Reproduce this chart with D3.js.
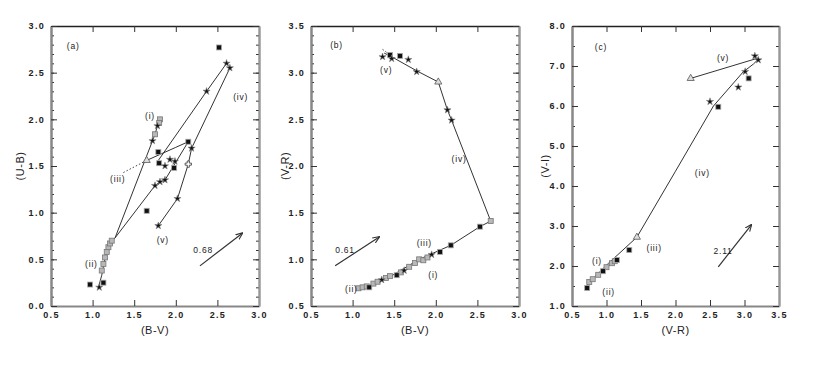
<!DOCTYPE html>
<html>
<head>
<meta charset="utf-8">
<script src="https://cdn.jsdelivr.net/npm/d3@7"></script>
<style>
  body { margin: 0; background: #fff; }
  svg { display: block; }
  text { font-family: "Liberation Sans", Arial, sans-serif; fill: #222; }
</style>
</head>
<body>
<svg id="chart" width="817" height="366"></svg>
<script>
// ---- panel (a): (U-B) against (B-V) ----
const aTrackI   = [[1.07,0.20],[1.11,0.33],[1.14,0.47],[1.17,0.58],[1.20,0.66],[1.27,0.73],[1.72,1.77],[1.75,1.84],[1.78,1.93],[1.81,2.01]];
const aTrackIII = [[1.27,0.73],[1.75,1.29],[1.81,1.33],[1.87,1.35],[2.15,1.76]];
const aTrackLoop = [[1.65,1.56],[1.80,1.62],[2.00,1.70],[2.15,1.76]];
const aTrackIV  = [[1.79,1.56],[2.37,2.30],[2.61,2.60]];
const aTrackV   = [[2.65,2.55],[2.19,1.69],[2.15,1.52],[2.02,1.15],[1.79,0.86]];
const aDotted   = [[1.37,1.43],[1.65,1.56]];
const aSquares  = [[0.97,0.23],[1.13,0.25],[1.65,1.02],[1.79,1.65],[1.80,1.53],[1.98,1.48],[2.52,2.77],[2.15,1.76]];
const aStars    = [[1.08,0.20],[1.79,0.86],[2.02,1.15],[2.19,1.69],[1.87,1.50],[1.93,1.57],[1.99,1.55],[1.75,1.29],[1.81,1.33],[1.87,1.35],[2.37,2.30],[2.61,2.60],[2.65,2.55],[1.72,1.77],[1.78,1.93]];
const aGrey     = [[1.11,0.38],[1.13,0.45],[1.15,0.52],[1.17,0.58],[1.19,0.63],[1.21,0.67],[1.23,0.70],[1.75,1.84],[1.81,2.00],[1.80,1.96]];
const aPlus     = [[2.15,1.52]];
const aOpen     = [[1.65,1.56]];
const aArrow    = [[2.29,0.43],[2.80,0.78]];
const aLabels   = [["(a)",0.69,2.79],["(i)",1.63,2.04],["(iv)",2.69,2.24],["(iii)",1.21,1.36],["(v)",1.77,0.71],["(ii)",0.91,0.45],["0.68",2.21,0.60]];

// ---- panel (b): (V-R) against (B-V) ----
const bTrack    = [[1.38,3.21],[1.47,3.17],[1.77,3.02],[2.03,2.90],[2.14,2.60],[2.19,2.49],[2.66,1.41],[2.53,1.35],[2.18,1.15],[1.80,1.00],[1.50,0.84],[1.22,0.71],[1.05,0.68]];
const bDotted   = [[1.36,3.25],[1.45,3.19]];
const bSquares  = [[1.45,3.19],[1.57,3.18],[1.53,0.83],[2.18,1.15],[2.53,1.35],[2.05,1.08],[1.20,0.70]];
const bStars    = [[1.36,3.17],[1.47,3.15],[1.67,3.14],[1.77,3.01],[2.14,2.60],[2.19,2.49],[1.95,1.05],[1.35,0.78],[1.62,0.88]];
const bGrey     = [[1.07,0.69],[1.12,0.70],[1.17,0.71],[1.25,0.74],[1.30,0.76],[1.40,0.80],[1.45,0.82],[1.58,0.86],[1.68,0.92],[1.75,0.96],[1.80,1.00],[1.85,0.99],[1.90,1.02],[2.66,1.41]];
const bPlus     = [];
const bOpen     = [[2.03,2.90]];
const bArrow    = [[0.79,0.93],[1.32,1.24]];
const bLabels   = [["(b)",0.73,3.30],["(v)",1.33,3.03],["(iv)",2.19,2.07],["(iii)",1.77,1.17],["(i)",1.91,0.83],["(ii)",0.91,0.68],["0.61",0.79,1.10]];

// ---- panel (c): (V-I) against (V-R) ----
const cTrack    = [[0.69,1.47],[0.83,1.73],[1.03,2.07],[1.44,2.72],[2.00,4.37],[2.55,6.00],[2.98,6.85],[3.13,7.05],[3.20,7.17]];
const cTrackV   = [[2.22,6.69],[3.20,7.20]];
const cSquares  = [[1.33,2.40],[1.15,2.15],[0.95,1.87],[0.72,1.45],[2.62,5.98],[3.06,6.69]];
const cStars    = [[2.50,6.11],[2.91,6.47],[3.01,6.86],[3.15,7.25],[3.20,7.15]];
const cGrey     = [[0.75,1.60],[0.80,1.67],[0.88,1.78],[1.00,1.97],[1.08,2.07],[1.12,2.12]];
const cPlus     = [];
const cOpen     = [[1.44,2.72],[2.22,6.69]];
const cArrow    = [[2.62,1.98],[3.10,3.03]];
const cLabels   = [["(c)",0.83,7.48],["(v)",2.60,7.19],["(iv)",2.28,4.32],["(iii)",1.58,2.44],["(i)",0.79,2.13],["(ii)",0.94,1.34],["2.11",2.55,2.37]];

const panels = [
  { left: 51,  right: 259, xDom: [0.5,3.0], yDom: [0,3.0], yMinor: 0.1, xTitle: "(B-V)", yTitle: "(U-B)", yTitleX: 24,
    lines: [aTrackI, aTrackIII, aTrackLoop, aTrackIV, aTrackV], dotted: [aDotted],
    squares: aSquares, stars: aStars, grey: aGrey, plus: aPlus, open: aOpen, arrow: aArrow, labels: aLabels },
  { left: 311, right: 519, xDom: [0.5,3.0], yDom: [0.5,3.5], yMinor: 0.1, xTitle: "(B-V)", yTitle: "(V-R)", yTitleX: 289,
    lines: [bTrack], dotted: [bDotted],
    squares: bSquares, stars: bStars, grey: bGrey, plus: bPlus, open: bOpen, arrow: bArrow, labels: bLabels },
  { left: 572, right: 779, xDom: [0.5,3.5], yDom: [1.0,8.0], yMinor: 0.5, xTitle: "(V-R)", yTitle: "(V-I)", yTitleX: 549,
    lines: [cTrack, cTrackV], dotted: [],
    squares: cSquares, stars: cStars, grey: cGrey, plus: cPlus, open: cOpen, arrow: cArrow, labels: cLabels }
];

const TOP = 26, BOTTOM = 306;
const svg = d3.select("#chart");
const fmt = d3.format(".1f");

svg.append("defs").append("marker")
  .attr("id", "head")
  .attr("viewBox", "0 0 10 10")
  .attr("refX", 9).attr("refY", 5)
  .attr("markerWidth", 6).attr("markerHeight", 6)
  .attr("orient", "auto")
  .append("path")
  .attr("d", "M0,1 L10,5 L0,9")
  .attr("fill", "none")
  .attr("stroke", "#333")
  .attr("stroke-width", 1.5);

panels.forEach(p => {
  const x = d3.scaleLinear().domain(p.xDom).range([p.left, p.right]);
  const y = d3.scaleLinear().domain(p.yDom).range([BOTTOM, TOP]);
  const xMajor = d3.range(p.xDom[0], p.xDom[1] + 1e-9, 0.5);
  const yMajor = d3.range(p.yDom[0], p.yDom[1] + 1e-9, p.yDom[1] - p.yDom[0] > 4 ? 1 : 0.5);
  const yMinor = d3.range(p.yDom[0], p.yDom[1] + 1e-9, p.yMinor);
  const g = svg.append("g");

  // axes, ticks pointing inwards
  const styleAxis = (sel, colour, width) => {
    sel.select(".domain").attr("stroke", colour).attr("stroke-width", width);
    sel.selectAll(".tick line").attr("stroke", "#333");
    sel.selectAll("text")
      .style("font-size", "9px").style("font-weight", "bold")
      .style("letter-spacing", "1.3px").attr("fill", "#222");
  };

  g.append("g").attr("transform", `translate(0,${BOTTOM})`)
    .call(d3.axisBottom(x).tickValues(xMajor).tickSizeInner(-6).tickSizeOuter(0).tickPadding(6).tickFormat(fmt))
    .call(s => styleAxis(s, "#888", 2));
  g.append("g").attr("transform", `translate(0,${TOP})`)
    .call(d3.axisTop(x).tickValues(xMajor).tickSizeInner(-6).tickSizeOuter(0).tickFormat(""))
    .call(s => styleAxis(s, "#222", 1.5));
  g.append("g").attr("transform", `translate(${p.left},0)`)
    .call(d3.axisLeft(y).tickValues(yMinor).tickSizeInner(-3).tickSizeOuter(0).tickFormat(""))
    .call(s => styleAxis(s, "#888", 2));
  g.append("g").attr("transform", `translate(${p.left},0)`)
    .call(d3.axisLeft(y).tickValues(yMajor).tickSizeInner(-6).tickSizeOuter(0).tickPadding(6).tickFormat(fmt))
    .call(s => styleAxis(s, "#888", 2));
  g.append("g").attr("transform", `translate(${p.right},0)`)
    .call(d3.axisRight(y).tickValues(yMinor).tickSizeInner(-3).tickSizeOuter(0).tickFormat(""))
    .call(s => styleAxis(s, "#999", 2));
  g.append("g").attr("transform", `translate(${p.right},0)`)
    .call(d3.axisRight(y).tickValues(yMajor).tickSizeInner(-6).tickSizeOuter(0).tickFormat(""))
    .call(s => styleAxis(s, "#999", 2));

  // axis titles
  g.append("text")
    .attr("x", (p.left + p.right) / 2).attr("y", 334)
    .attr("text-anchor", "middle")
    .style("font-size", "11px").style("letter-spacing", "0.5px")
    .text(p.xTitle);
  g.append("text")
    .attr("transform", `translate(${p.yTitleX},${(TOP + BOTTOM) / 2}) rotate(-90)`)
    .attr("text-anchor", "middle")
    .style("font-size", "11px").style("letter-spacing", "0.5px")
    .text(p.yTitle);

  const line = d3.line().x(d => x(d[0])).y(d => y(d[1]));

  g.selectAll(".track").data(p.lines).enter()
    .append("path")
    .attr("d", line)
    .attr("fill", "none")
    .attr("stroke", "#333")
    .attr("stroke-width", 1);

  g.selectAll(".dotted").data(p.dotted).enter()
    .append("path")
    .attr("d", line)
    .attr("fill", "none")
    .attr("stroke", "#444")
    .attr("stroke-width", 1)
    .attr("stroke-dasharray", "1.5,2");

  // reddening vector
  g.append("path")
    .attr("d", line(p.arrow))
    .attr("fill", "none")
    .attr("stroke", "#333")
    .attr("stroke-width", 1.2)
    .attr("marker-end", "url(#head)");

  // markers
  g.selectAll(".grey").data(p.grey).enter()
    .append("rect")
    .attr("x", d => x(d[0]) - 2.5).attr("y", d => y(d[1]) - 2.5)
    .attr("width", 5).attr("height", 5)
    .attr("fill", "#b8b8b8").attr("stroke", "#777").attr("stroke-width", 0.8);

  g.selectAll(".open").data(p.open).enter()
    .append("path")
    .attr("transform", d => `translate(${x(d[0])},${y(d[1])})`)
    .attr("d", d3.symbol(d3.symbolTriangle, 22))
    .attr("fill", "#ddd").attr("stroke", "#555").attr("stroke-width", 0.8);

  g.selectAll(".sq").data(p.squares).enter()
    .append("rect")
    .attr("x", d => x(d[0]) - 2.5).attr("y", d => y(d[1]) - 2.5)
    .attr("width", 5).attr("height", 5)
    .attr("fill", "#111").attr("stroke", "#aaa").attr("stroke-width", 0.8);

  g.selectAll(".star").data(p.stars).enter()
    .append("path")
    .attr("transform", d => `translate(${x(d[0])},${y(d[1])})`)
    .attr("d", d3.symbol(d3.symbolStar, 16))
    .attr("fill", "#111").attr("stroke", "#888").attr("stroke-width", 0.6);

  g.selectAll(".plus").data(p.plus).enter()
    .append("path")
    .attr("transform", d => `translate(${x(d[0])},${y(d[1])})`)
    .attr("d", d3.symbol(d3.symbolCross, 22))
    .attr("fill", "#fff").attr("stroke", "#333").attr("stroke-width", 0.8);

  // in-panel labels
  g.selectAll(".lab").data(p.labels).enter()
    .append("text")
    .attr("x", d => x(d[1])).attr("y", d => y(d[2]))
    .attr("dy", "0.35em")
    .style("font-size", "8.5px").style("letter-spacing", "0.8px")
    .text(d => d[0]);
});
</script>
</body>
</html>
